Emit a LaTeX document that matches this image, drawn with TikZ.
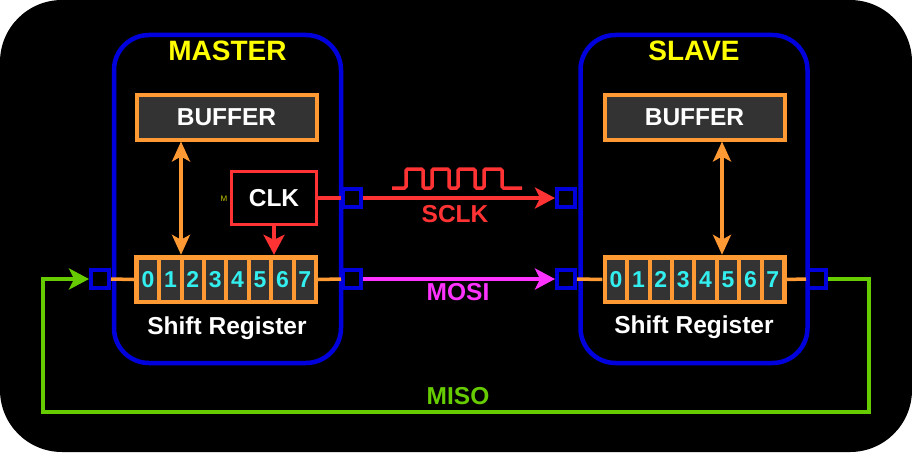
\documentclass[tikz,border=0pt]{standalone}
\usepackage{fontspec}
\setmainfont{Liberation Sans}
\usetikzlibrary{arrows.meta}
\definecolor{bblue}{RGB}{0,0,221}
\definecolor{bor}{RGB}{255,153,51}
\definecolor{bred}{RGB}{255,51,51}
\definecolor{bmag}{RGB}{255,51,255}
\definecolor{bgreen}{RGB}{102,204,0}
\definecolor{byel}{RGB}{255,255,0}
\definecolor{bcyan}{RGB}{51,238,238}
\definecolor{bgray}{RGB}{51,51,51}
\tikzset{
  dtip/.tip={Stealth[length=20pt, width=18pt, inset=5pt]},
  rtip/.tip={Stealth[length=20pt, width=21pt, inset=5pt]}
}
\begin{document}
\begin{tikzpicture}[x=1pt,y=-1pt,
  devbox/.style={draw=bblue, line width=4.5pt, rounded corners=35pt, minimum width=227pt, minimum height=328pt, inner sep=0},
  title/.style={font=\bfseries\fontsize{28}{28}\selectfont, text=byel, inner sep=0, anchor=base},
  buf/.style={draw=bor, fill=bgray, line width=4pt, minimum width=180pt, minimum height=45pt, inner sep=0, font=\bfseries\fontsize{24.5}{24.5}\selectfont, text=white},
  reg/.style={fill=bor, minimum width=184pt, minimum height=49pt, inner sep=0},
  cell/.style={fill=bgray, minimum width=18.5pt, minimum height=40pt, inner sep=0, font=\bfseries\fontsize{23}{23}\selectfont, text=bcyan},
  lbl/.style={font=\bfseries\fontsize{24.5}{24.5}\selectfont, inner sep=0, anchor=base},
  portbox/.style={draw=bblue, fill=black, line width=4pt, minimum size=18pt, inner sep=0},
  clkbox/.style={draw=bred, fill=black, line width=3.5pt, minimum width=85pt, minimum height=53pt, inner sep=0, font=\bfseries\fontsize{24.5}{24.5}\selectfont, text=white},
  wire/.style={line width=3.5pt}
]
\useasboundingbox (0,0) rectangle (912,452);
\fill[white] (0,0) rectangle (912,452);
\fill[black, rounded corners=62pt] (0,0) rectangle (912,452);

% device boxes
\node[devbox] (master) at (227.5,199) {};
\node[devbox] (slave) at (694,199) {};
\node[title] (mtitle) at (227.5,60.5) {MASTER};
\node[title] (stitle) at (694,60.5) {SLAVE};

% buffers
\node[buf] (mbuf) at (226.5,117) {BUFFER};
\node[buf] (sbuf) at (694.5,117) {BUFFER};

% shift registers
\node[reg] (mreg) at (226,279.5) {};
\node[reg] (sreg) at (694.5,279.5) {};
\foreach \i in {0,...,7} {
  \node[cell] (mc\i) at ({148+22.4*\i},279.5) {\i};
  \node[cell] (sc\i) at ({616+22.4*\i},279.5) {\i};
}
\node[lbl, text=white] (mlab) at (227,334) {Shift Register};
\node[lbl, text=white] (slab) at (694,333) {Shift Register};

% clock
\node[clkbox] (clk) at (274,198) {CLK};
\node[inner sep=0, font=\fontsize{8}{8}\selectfont, text={rgb,255:red,200;green,200;blue,0}] (mtiny) at (224,199) {M};

\coordinate (ma) at (181,0);
\coordinate (sa) at (722,0);

% internal connectors
\draw[wire, bor, dtip-dtip] (mbuf.south -| ma) -- (mreg.north -| ma);
\draw[wire, bor, dtip-dtip] (sbuf.south -| sa) -- (sreg.north -| sa);
\draw[wire, bred, -rtip] (clk.south) -- (clk.south |- mreg.north);

% ports
\node[portbox] (mp1) at (100,279) {};
\node[portbox] (mp2) at (352,198) {};
\node[portbox] (mp3) at (352,279) {};
\node[portbox] (sp1) at (566,198) {};
\node[portbox] (sp2) at (566,279) {};
\node[portbox] (sp3) at (817,279) {};

\draw[wire, bor] (mp1.east) -- (mreg.west);
\draw[wire, bor] (mreg.east) -- (mp3.west);
\draw[wire, bor] (sp2.east) -- (sreg.west);
\draw[wire, bor] (sreg.east) -- (sp3.west);
\draw[wire, bred] (clk.east) -- (mp2.west);

% SCLK
\draw[wire, bred, -rtip] (mp2.east) -- (sp1.west);
\draw[wire, bred, rounded corners=1.5pt] (392,188) -- (406,188) -- (406,169) -- (423,169) -- (423,188) -- (432,188) -- (432,169) -- (449,169) -- (449,188) -- (458,188) -- (458,169) -- (475,169) -- (475,188) -- (484,188) -- (484,169) -- (502,169) -- (502,188) -- (522,188);
\node[lbl, text=bred] (sclk) at (455,222.5) {SCLK};

% MOSI
\draw[wire, bmag, -rtip] (mp3.east) -- (sp2.west);
\node[lbl, text=bmag] (mosi) at (458,300.5) {MOSI};

% MISO
\coordinate (g1) at (869,412);
\coordinate (g2) at (43,412);
\draw[wire, bgreen, -rtip] (sp3.east) -| (g1) -- (g2) |- (mp1.west);
\node[lbl, text=bgreen] (miso) at (458,404) {MISO};
\end{tikzpicture}
\end{document}
